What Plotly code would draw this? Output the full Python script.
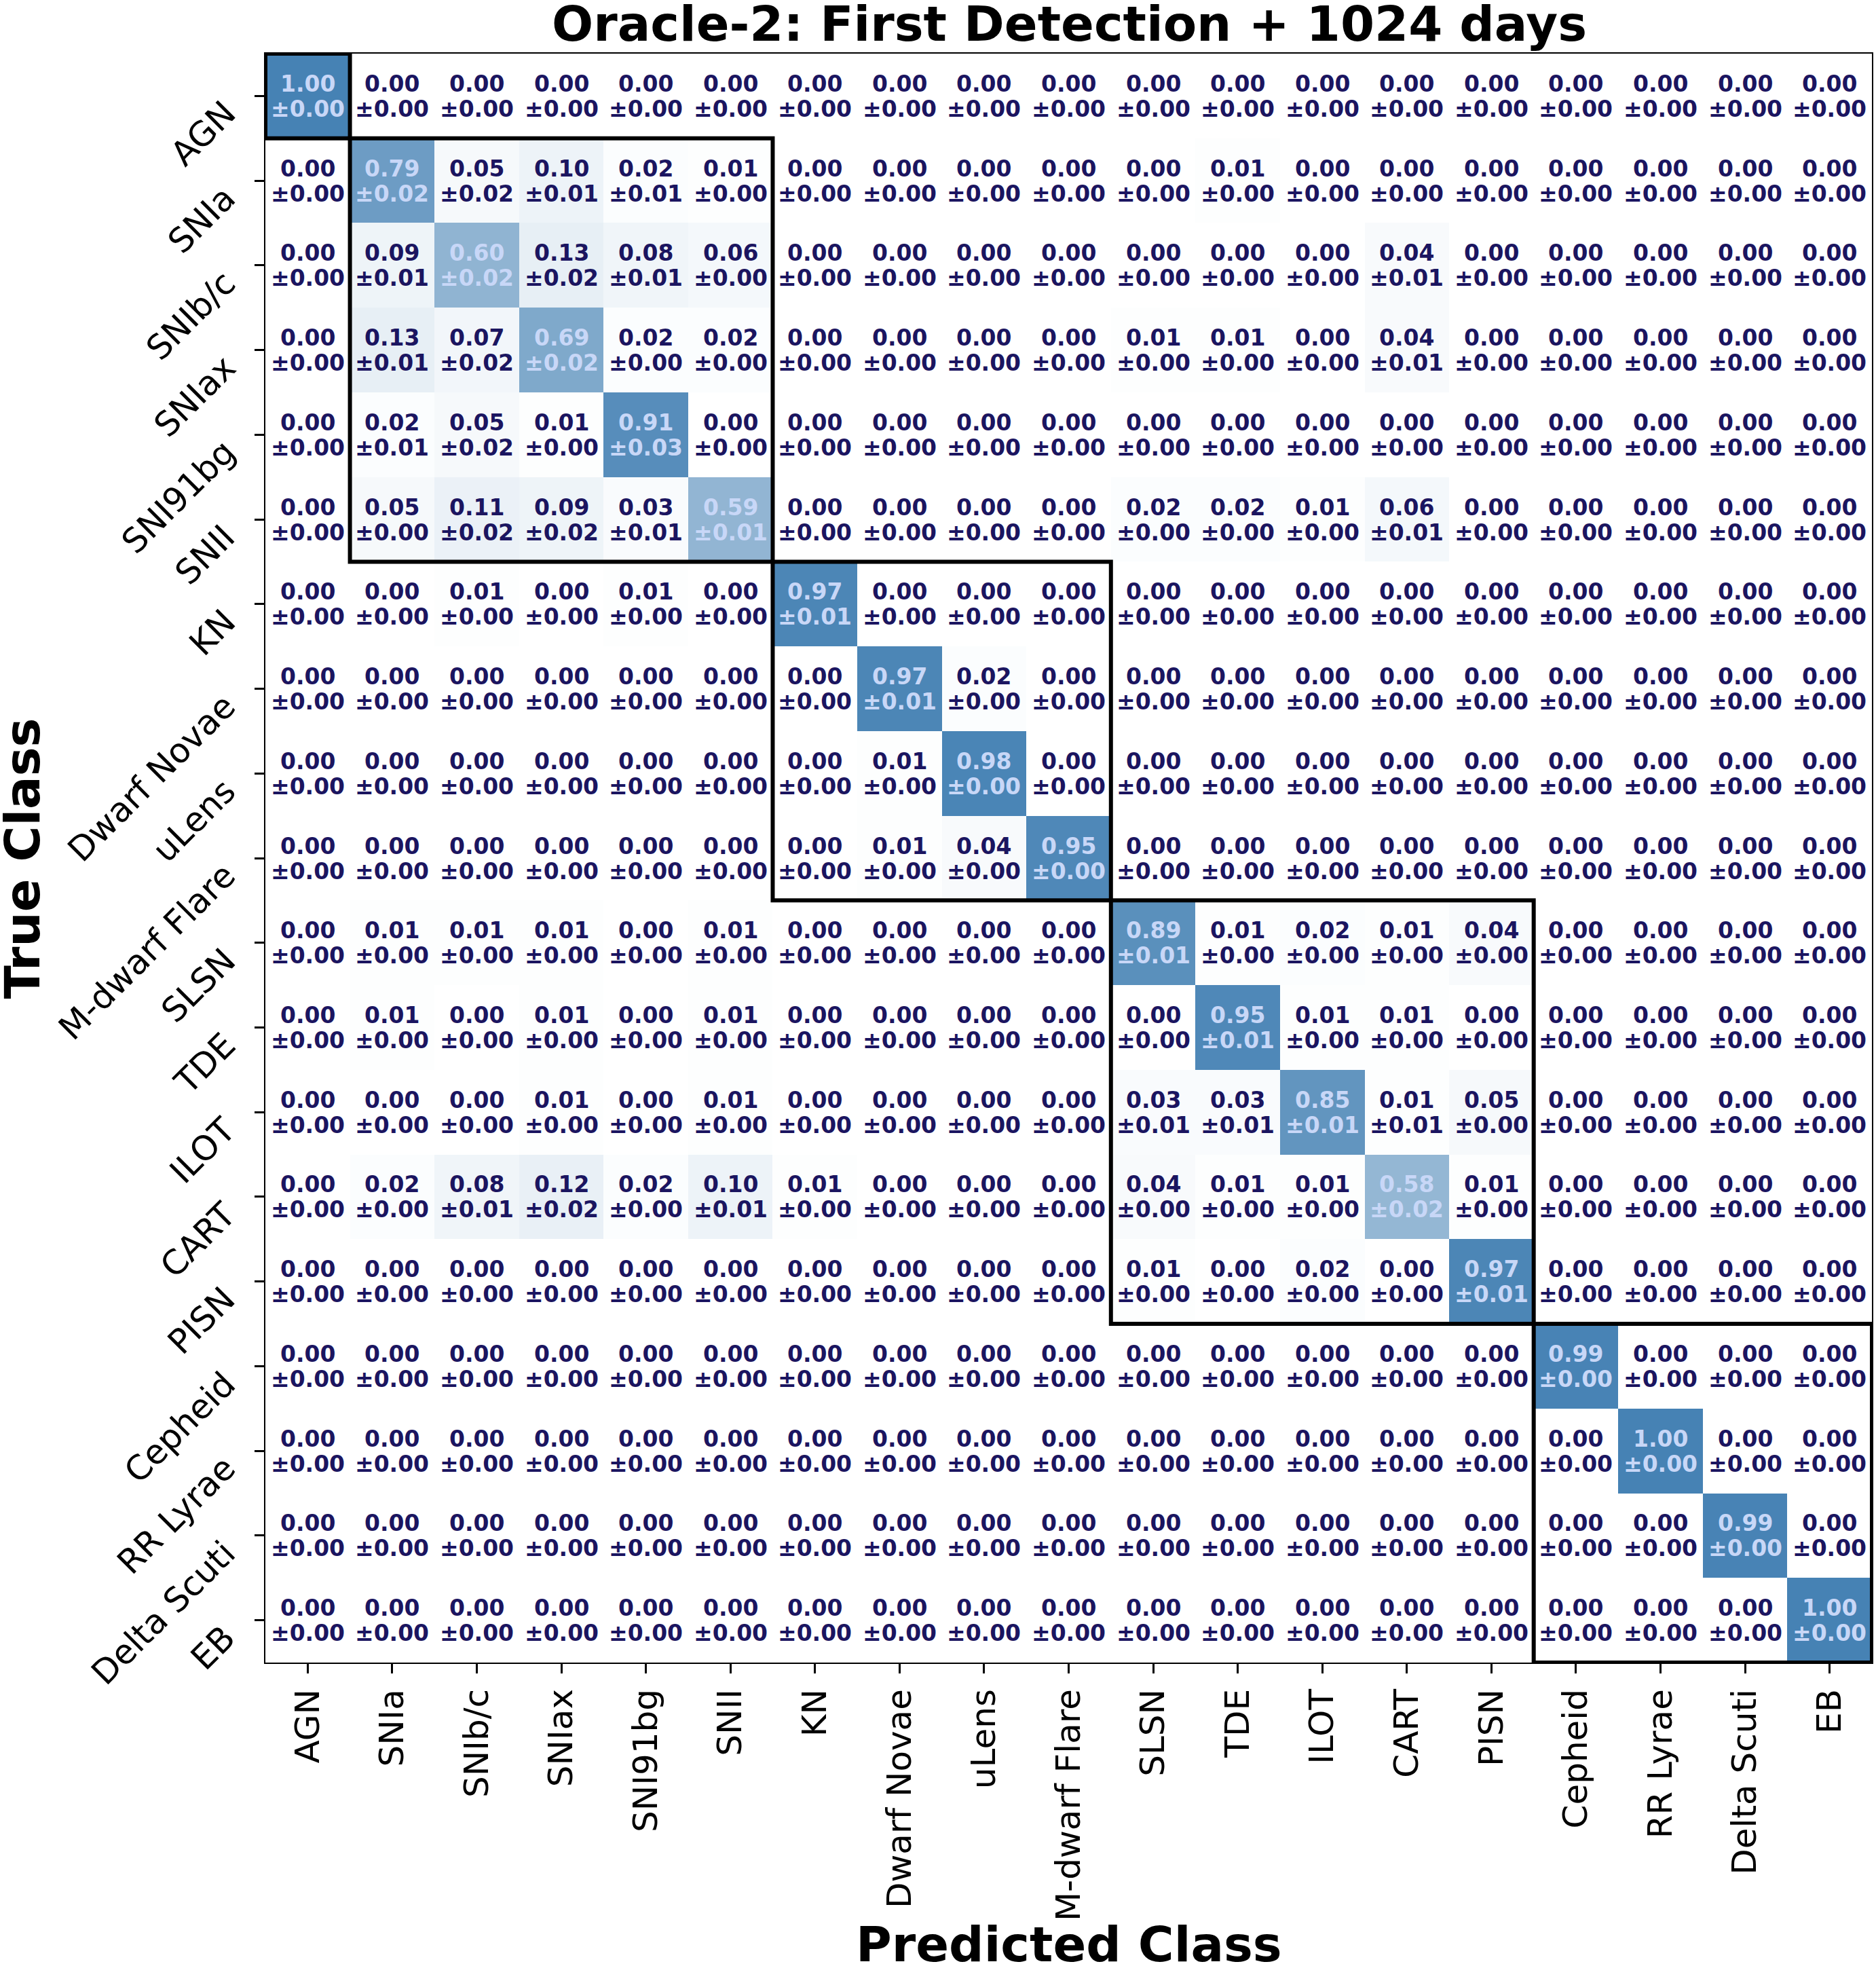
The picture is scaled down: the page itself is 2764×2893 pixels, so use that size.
import plotly.graph_objects as go

classes = ["AGN", "SNIa", "SNIb/c", "SNIax", "SNI91bg", "SNII", "KN", "Dwarf Novae",
           "uLens", "M-dwarf Flare", "SLSN", "TDE", "ILOT", "CART", "PISN",
           "Cepheid", "RR Lyrae", "Delta Scuti", "EB"]

# mean fraction (rows = true class, columns = predicted class)
mean_frac = [
    [1.00, 0, 0, 0, 0, 0, 0, 0, 0, 0, 0, 0, 0, 0, 0, 0, 0, 0, 0],
    [0, 0.79, 0.05, 0.10, 0.02, 0.01, 0, 0, 0, 0, 0, 0.01, 0, 0, 0, 0, 0, 0, 0],
    [0, 0.09, 0.60, 0.13, 0.08, 0.06, 0, 0, 0, 0, 0, 0, 0, 0.04, 0, 0, 0, 0, 0],
    [0, 0.13, 0.07, 0.69, 0.02, 0.02, 0, 0, 0, 0, 0.01, 0.01, 0, 0.04, 0, 0, 0, 0, 0],
    [0, 0.02, 0.05, 0.01, 0.91, 0, 0, 0, 0, 0, 0, 0, 0, 0, 0, 0, 0, 0, 0],
    [0, 0.05, 0.11, 0.09, 0.03, 0.59, 0, 0, 0, 0, 0.02, 0.02, 0.01, 0.06, 0, 0, 0, 0, 0],
    [0, 0, 0.01, 0, 0.01, 0, 0.97, 0, 0, 0, 0, 0, 0, 0, 0, 0, 0, 0, 0],
    [0, 0, 0, 0, 0, 0, 0, 0.97, 0.02, 0, 0, 0, 0, 0, 0, 0, 0, 0, 0],
    [0, 0, 0, 0, 0, 0, 0, 0.01, 0.98, 0, 0, 0, 0, 0, 0, 0, 0, 0, 0],
    [0, 0, 0, 0, 0, 0, 0, 0.01, 0.04, 0.95, 0, 0, 0, 0, 0, 0, 0, 0, 0],
    [0, 0.01, 0.01, 0.01, 0, 0.01, 0, 0, 0, 0, 0.89, 0.01, 0.02, 0.01, 0.04, 0, 0, 0, 0],
    [0, 0.01, 0, 0.01, 0, 0.01, 0, 0, 0, 0, 0, 0.95, 0.01, 0.01, 0, 0, 0, 0, 0],
    [0, 0, 0, 0.01, 0, 0.01, 0, 0, 0, 0, 0.03, 0.03, 0.85, 0.01, 0.05, 0, 0, 0, 0],
    [0, 0.02, 0.08, 0.12, 0.02, 0.10, 0.01, 0, 0, 0, 0.04, 0.01, 0.01, 0.58, 0.01, 0, 0, 0, 0],
    [0, 0, 0, 0, 0, 0, 0, 0, 0, 0, 0.01, 0, 0.02, 0, 0.97, 0, 0, 0, 0],
    [0, 0, 0, 0, 0, 0, 0, 0, 0, 0, 0, 0, 0, 0, 0, 0.99, 0, 0, 0],
    [0, 0, 0, 0, 0, 0, 0, 0, 0, 0, 0, 0, 0, 0, 0, 0, 1.00, 0, 0],
    [0, 0, 0, 0, 0, 0, 0, 0, 0, 0, 0, 0, 0, 0, 0, 0, 0, 0.99, 0],
    [0, 0, 0, 0, 0, 0, 0, 0, 0, 0, 0, 0, 0, 0, 0, 0, 0, 0, 1.00],
]

# standard deviation of the fraction
std_frac = [
    [0] * 19,
    [0, 0.02, 0.02, 0.01, 0.01, 0, 0, 0, 0, 0, 0, 0, 0, 0, 0, 0, 0, 0, 0],
    [0, 0.01, 0.02, 0.02, 0.01, 0, 0, 0, 0, 0, 0, 0, 0, 0.01, 0, 0, 0, 0, 0],
    [0, 0.01, 0.02, 0.02, 0, 0, 0, 0, 0, 0, 0, 0, 0, 0.01, 0, 0, 0, 0, 0],
    [0, 0.01, 0.02, 0, 0.03, 0, 0, 0, 0, 0, 0, 0, 0, 0, 0, 0, 0, 0, 0],
    [0, 0, 0.02, 0.02, 0.01, 0.01, 0, 0, 0, 0, 0, 0, 0, 0.01, 0, 0, 0, 0, 0],
    [0, 0, 0, 0, 0, 0, 0.01, 0, 0, 0, 0, 0, 0, 0, 0, 0, 0, 0, 0],
    [0, 0, 0, 0, 0, 0, 0, 0.01, 0, 0, 0, 0, 0, 0, 0, 0, 0, 0, 0],
    [0] * 19,
    [0] * 19,
    [0, 0, 0, 0, 0, 0, 0, 0, 0, 0, 0.01, 0, 0, 0, 0, 0, 0, 0, 0],
    [0, 0, 0, 0, 0, 0, 0, 0, 0, 0, 0, 0.01, 0, 0, 0, 0, 0, 0, 0],
    [0, 0, 0, 0, 0, 0, 0, 0, 0, 0, 0.01, 0.01, 0.01, 0.01, 0, 0, 0, 0, 0],
    [0, 0, 0.01, 0.02, 0, 0.01, 0, 0, 0, 0, 0, 0, 0, 0.02, 0, 0, 0, 0, 0],
    [0, 0, 0, 0, 0, 0, 0, 0, 0, 0, 0, 0, 0, 0, 0.01, 0, 0, 0, 0],
    [0] * 19,
    [0] * 19,
    [0] * 19,
    [0] * 19,
]

# group boundaries (index of first class of each group, plus end)
group_edges = [0, 1, 6, 10, 15, 19]

title_text = "Oracle-2: First Detection + 1024 days"
DARK = "#1b1560"
LIGHT = "#c8d7f7"
FONT = "DejaVu Sans"

fig = go.Figure()
fig.add_trace(go.Heatmap(
    z=mean_frac, x=classes, y=classes,
    colorscale=[[0, "#ffffff"], [1, "#4682b4"]],
    zmin=0, zmax=1, showscale=False, hoverinfo="skip",
))

annotations = []
for i, tr in enumerate(classes):
    for j, pr in enumerate(classes):
        m = mean_frac[i][j]
        s = std_frac[i][j]
        col = LIGHT if m > 0.5 else DARK
        for txt, shift in ((f"{m:.2f}", 18), (f"±{s:.2f}", -19)):
            annotations.append(dict(
                text=txt, x=pr, y=tr, xref="x", yref="y", yshift=shift,
                xanchor="center", yanchor="middle", showarrow=False,
                font=dict(family=FONT, size=33, color=col, weight="bold")))

# y tick labels, rotated 45 degrees, top-right corner anchored at the tick
for c in classes:
    annotations.append(dict(
        text=c, x=0, y=c, xref="paper", yref="y", xanchor="right", yanchor="top",
        xshift=-30, yshift=6, textangle=-45, showarrow=False,
        font=dict(family=FONT, size=50, color="black")))

shapes = []
for a, b in zip(group_edges[:-1], group_edges[1:]):
    shapes.append(dict(type="rect", xref="x", yref="y",
                       x0=a - 0.5, x1=b - 0.5, y0=a - 0.5, y1=b - 0.5,
                       line=dict(color="black", width=6), fillcolor="rgba(0,0,0,0)",
                       layer="above"))

W, H = 2764, 2893
L, R, T, B = 391, 4, 79, 444
pw, ph = W - L - R, H - T - B

annotations += [
    dict(text="Predicted Class", xref="paper", yref="paper", x=0.5,
         y=(0 - (2864 - (T + ph))) / ph, xanchor="center", yanchor="middle",
         showarrow=False,
         font=dict(family=FONT, size=72, color="black", weight="bold")),
    dict(text="True Class", xref="paper", yref="paper",
         x=(33 - L) / pw, y=0.5, xanchor="center", yanchor="middle",
         textangle=-90, showarrow=False,
         font=dict(family=FONT, size=72, color="black", weight="bold")),
]

fig.update_layout(
    width=W, height=H,
    margin=dict(l=L, r=R, t=T, b=B, pad=0),
    paper_bgcolor="white", plot_bgcolor="white",
    showlegend=False,
    shapes=shapes,
    annotations=annotations,
    title=dict(text=title_text, x=(L + pw / 2) / W, xanchor="center",
               y=1 - 35 / H, yanchor="middle", yref="container",
               font=dict(family=FONT, size=72, color="black", weight="bold")),
    font=dict(family=FONT, color="black"),
)
fig.update_xaxes(
    type="category", categoryorder="array", categoryarray=classes,
    tickangle=-90, tickfont=dict(family=FONT, size=50, color="black"),
    ticks="outside", ticklen=14, tickwidth=3, tickcolor="black",
    showline=True, linewidth=2, linecolor="black", mirror=True,
    showgrid=False, zeroline=False, range=[-0.5, 18.5], ticklabelstandoff=3,
)
fig.update_yaxes(
    type="category", categoryorder="array", categoryarray=classes,
    showticklabels=False,
    ticks="outside", ticklen=14, tickwidth=3, tickcolor="black",
    showline=True, linewidth=2, linecolor="black", mirror=True,
    showgrid=False, zeroline=False, range=[18.5, -0.5],
)

fig.write_html("out.html")
